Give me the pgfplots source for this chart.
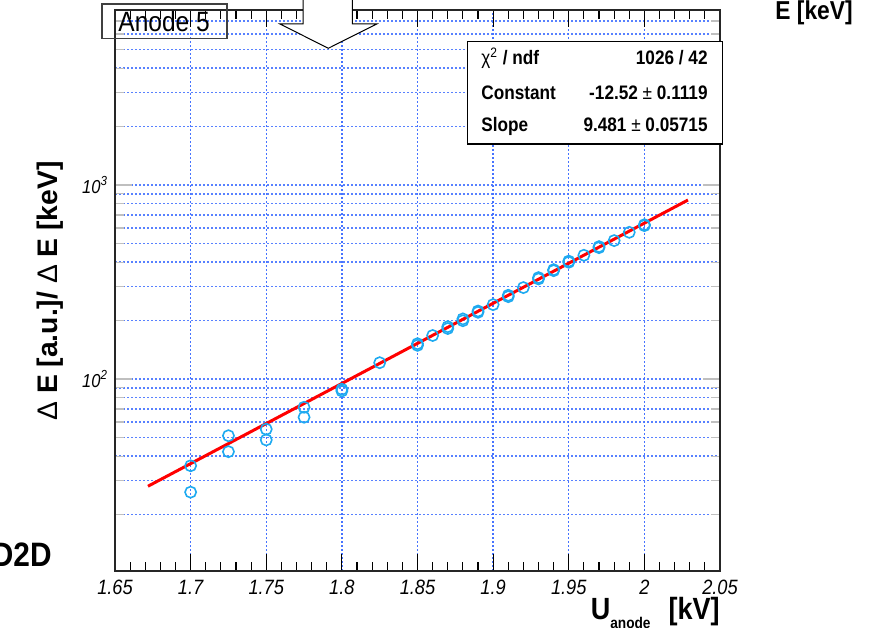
\documentclass[border=0pt]{standalone}
\usepackage{pgfplots}
\pgfplotsset{compat=1.18}
\usepackage{fontspec}
\setmainfont{Liberation Sans}[FakeStretch=0.88]
\newfontfamily\widefont{Liberation Sans}
\definecolor{gridblue}{RGB}{70,115,255}
\definecolor{mkcyan}{RGB}{30,170,240}
\begin{document}
\begin{tikzpicture}[x=0.5bp,y=0.5bp]
\useasboundingbox (0,0) rectangle (885,628);
\begin{axis}[
  at={(57.5bp,28.5bp)}, anchor=south west,
  scale only axis, width=302.5bp, height=280.5bp,
  ymode=log,
  xmin=1.65, xmax=2.05, ymin=10.24, ymax=7980,
  xtick={1.65,1.7,1.75,1.8,1.85,1.9,1.95,2,2.05},
  minor x tick num=4,
  ytick={100,1000},
  yticklabels={{10\textsuperscript{2}},{10\textsuperscript{3}}},
  minor ytick={20,30,40,50,60,70,80,90,200,300,400,500,600,700,800,900,2000,3000,4000,5000,6000,7000},
  xmajorgrids, ymajorgrids, yminorgrids,
  grid style={draw=gridblue, line width=0.7bp, dash pattern=on 0.8bp off 1.2bp},
  major grid style={draw=gridblue, line width=0.7bp, dash pattern=on 0.8bp off 1.2bp},
  minor grid style={draw=gridblue, line width=0.7bp, dash pattern=on 0.8bp off 1.2bp},
  y grid style={draw=gridblue, opacity=0.9},
  axis line style={black!85, line width=1bp},
  tick align=inside,
  major tick length=8.5bp, minor tick length=4.5bp,
  xtick style={black, line width=0.6bp},
  ytick style={draw=gray!50, line width=0.6bp},
  /pgf/number format/assume math mode=true,
  xticklabel style={font=\fontsize{10.4}{11}\selectfont\itshape, yshift=-1bp},
  yticklabel style={font=\fontsize{9.4}{10}\selectfont\itshape},
]
% fit
\addplot[red, line width=1.5bp, no markers] coordinates {(1.6718,28.0) (2.0288,836)};
% measured points
\addplot[only marks, mark=o, mark size=2.8bp, mkcyan, mark options={line width=0.8bp}] coordinates {
(1.700,35.7) (1.700,26.1) (1.725,51.0) (1.725,42.2) (1.750,55.1) (1.750,48.5)
(1.775,71.5) (1.775,63.5) (1.800,86.7) (1.800,88.5) (1.825,121.3)
(1.850,152.0) (1.850,149.0) (1.860,167.5) (1.870,182.0) (1.870,186.0)
(1.880,199.6) (1.880,204.0) (1.890,220.6) (1.890,224.0) (1.900,241.6)
(1.910,265.6) (1.910,270.0) (1.920,295.8) (1.930,327.7) (1.930,333.0)
(1.940,361.6) (1.940,366.0) (1.950,399.5) (1.950,405.0) (1.960,434)
(1.970,475) (1.970,481) (1.980,516.6) (1.990,570) (2.000,617) (2.000,624)
};
\end{axis}
% pad label
\draw[black!75, line width=0.7bp] (102,589.3) rectangle (227,624);
\node[anchor=base west, inner sep=0, font=\fontsize{14}{14}\selectfont] at (118,596) {Anode 5};
% arrow
\draw[fill=white, line width=0.5bp] (303,640) -- (303,604) -- (280,604) -- (328.3,579.7) -- (376.7,604) -- (352.3,604) -- (352.3,640);
% fit statistics
\draw[fill=white, line width=0.7bp] (467.7,484) rectangle (722.7,586.3);
\begin{scope}[font=\fontsize{9.8}{10}\selectfont]
\node[anchor=base west, inner sep=0] at (481,563) {χ\textsuperscript{2} {\bfseries / ndf}};
\node[anchor=base east, inner sep=0] at (708,563) {\bfseries 1026 / 42};
\node[anchor=base west, inner sep=0] at (481,528) {\bfseries Constant};
\node[anchor=base east, inner sep=0] at (708,528) {{\bfseries -12.52} ± {\bfseries 0.1119}};
\node[anchor=base west, inner sep=0] at (481,496) {\bfseries Slope};
\node[anchor=base east, inner sep=0] at (708,496) {{\bfseries 9.481} ± {\bfseries 0.05715}};
\end{scope}
% axis titles
\node[rotate=90, anchor=base, inner sep=0, font=\widefont\bfseries\fontsize{14.2}{14}\selectfont] at (57,337) {{\mdseries Δ} E [a.u.]/ {\mdseries Δ} E [keV]};
\node[anchor=base east, inner sep=0, font=\bfseries\fontsize{15.4}{15}\selectfont] at (720,8) {U\raisebox{-4.5bp}{\fontsize{7.8}{8}\selectfont anode}\hspace{9bp}[kV]};
% fragments of neighbouring pads
\node[anchor=base west, inner sep=0, font=\bfseries\fontsize{13}{13}\selectfont] at (775,608) {E [keV]};
\node[anchor=base east, inner sep=0, font=\bfseries\fontsize{17}{17}\selectfont] at (52,61) {D2D};
\end{tikzpicture}
\end{document}
